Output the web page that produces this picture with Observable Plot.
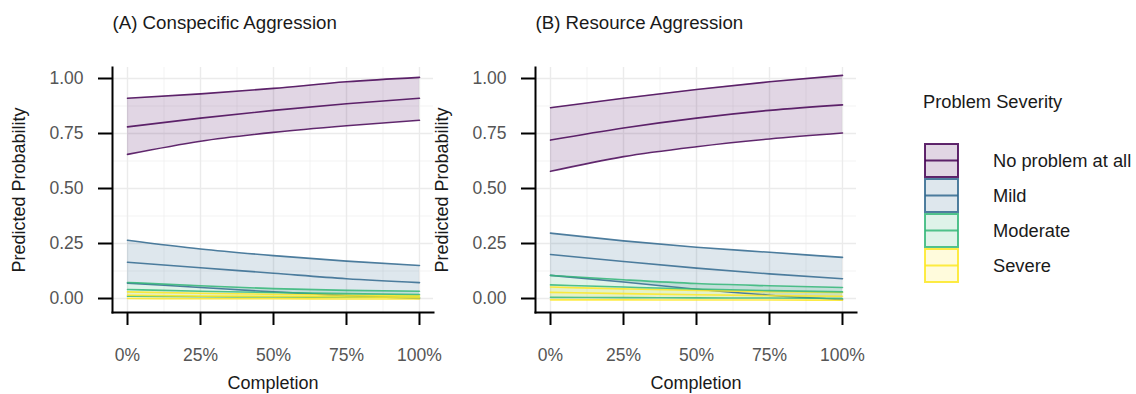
<!DOCTYPE html>
<html>
<head>
<meta charset="utf-8">
<script src="https://cdn.jsdelivr.net/npm/d3@7"></script>
<script src="https://cdn.jsdelivr.net/npm/@observablehq/plot@0.6"></script>
<style>
  html, body { margin: 0; padding: 0; background: #ffffff; }
  #chart { position: relative; width: 1136px; height: 394px; overflow: hidden; font-family: "Liberation Sans", Arial, sans-serif; }
  #chart > .panel { position: absolute; top: 0; }
  #legend { position: absolute; left: 0; top: 0; }
</style>
</head>
<body>
<div id="chart"></div>
<script>
// ---------- data ----------
const completion = [0, 0.25, 0.5, 0.75, 1];
const severityLevels = ["No problem at all", "Mild", "Moderate", "Severe"];
const severityColors = ["#440154", "#31688E", "#35B779", "#FDE725"];
const panelTitles = ["(A) Conspecific Aggression", "(B) Resource Aggression"];
const xTicks = [0, 0.25, 0.5, 0.75, 1];
const xMinor = [0.125, 0.375, 0.625, 0.875];
const yTicks = [0, 0.25, 0.5, 0.75, 1];
const yMinor = [0.125, 0.375, 0.625, 0.875];
const xLabel = "Completion";
const yLabel = "Predicted Probability";
const legendTitle = "Problem Severity";

// Panel A: Conspecific Aggression
const aNoneEst = [0.78, 0.82, 0.855, 0.885, 0.91];
const aNoneLo  = [0.655, 0.715, 0.755, 0.785, 0.81];
const aNoneHi  = [0.91, 0.93, 0.955, 0.985, 1.005];
const aMildEst = [0.165, 0.14, 0.115, 0.09, 0.072];
const aMildLo  = [0.07, 0.05, 0.03, 0.013, 0.0];
const aMildHi  = [0.265, 0.225, 0.195, 0.17, 0.15];
const aModEst  = [0.041, 0.033, 0.027, 0.022, 0.018];
const aModLo   = [0.01, 0.008, 0.007, 0.006, 0.005];
const aModHi   = [0.073, 0.058, 0.045, 0.037, 0.033];
const aSevEst  = [0.015, 0.011, 0.009, 0.007, 0.006];
const aSevLo   = [0.0, -0.001, -0.001, -0.002, -0.002];
const aSevHi   = [0.03, 0.024, 0.019, 0.015, 0.012];

// Panel B: Resource Aggression
const bNoneEst = [0.72, 0.775, 0.82, 0.855, 0.88];
const bNoneLo  = [0.578, 0.645, 0.69, 0.725, 0.752];
const bNoneHi  = [0.867, 0.91, 0.95, 0.985, 1.014];
const bMildEst = [0.2, 0.168, 0.138, 0.112, 0.09];
const bMildLo  = [0.105, 0.075, 0.042, 0.015, -0.005];
const bMildHi  = [0.297, 0.262, 0.233, 0.21, 0.187];
const bModEst  = [0.062, 0.052, 0.043, 0.036, 0.03];
const bModLo   = [0.005, 0.004, 0.003, 0.002, 0.0];
const bModHi   = [0.105, 0.085, 0.068, 0.058, 0.05];
const bSevEst  = [0.028, 0.022, 0.017, 0.013, 0.01];
const bSevLo   = [-0.006, -0.006, -0.007, -0.007, -0.008];
const bSevHi   = [0.052, 0.044, 0.037, 0.031, 0.027];

const xDomain = [-0.0514, 1.048];
const yDomain = [-0.0636, 1.05];

// ---------- build tidy rows ----------
function rowsFor(series) {
  const rows = [];
  series.forEach(([sev, est, lo, hi]) => {
    completion.forEach((x, i) => rows.push({x, sev, est: est[i], lo: lo[i], hi: hi[i]}));
  });
  return rows;
}
const rowsA = rowsFor([
  [severityLevels[0], aNoneEst, aNoneLo, aNoneHi],
  [severityLevels[1], aMildEst, aMildLo, aMildHi],
  [severityLevels[2], aModEst, aModLo, aModHi],
  [severityLevels[3], aSevEst, aSevLo, aSevHi]
]);
const rowsB = rowsFor([
  [severityLevels[0], bNoneEst, bNoneLo, bNoneHi],
  [severityLevels[1], bMildEst, bMildLo, bMildHi],
  [severityLevels[2], bModEst, bModLo, bModHi],
  [severityLevels[3], bSevEst, bSevLo, bSevHi]
]);

const FONT = "'Liberation Sans', Arial, sans-serif";
const curve = "monotone-x";

function panel(rows, title) {
  return Plot.plot({
    width: 440,
    height: 394,
    marginTop: 67,
    marginBottom: 82,
    marginLeft: 112,
    marginRight: 7,
    style: {fontFamily: FONT, fontSize: "17.5px", background: "transparent", overflow: "visible", color: "#000"},
    x: {domain: xDomain, axis: null},
    y: {domain: yDomain, axis: null},
    color: {domain: severityLevels, range: severityColors},
    marks: [
      Plot.gridX(xMinor, {stroke: "#f0f0f0", strokeOpacity: 1, strokeWidth: 0.8}),
      Plot.gridY(yMinor, {stroke: "#f0f0f0", strokeOpacity: 1, strokeWidth: 0.8}),
      Plot.gridX(xTicks, {stroke: "#ebebeb", strokeOpacity: 1, strokeWidth: 1.4}),
      Plot.gridY(yTicks, {stroke: "#ebebeb", strokeOpacity: 1, strokeWidth: 1.4}),
      Plot.areaY(rows, {x: "x", y1: "lo", y2: "hi", z: "sev", fill: "sev", fillOpacity: 0.16, curve}),
      Plot.line(rows, {x: "x", y: "lo", z: "sev", stroke: "sev", strokeWidth: 1.6, strokeOpacity: 0.85, curve}),
      Plot.line(rows, {x: "x", y: "hi", z: "sev", stroke: "sev", strokeWidth: 1.6, strokeOpacity: 0.85, curve}),
      Plot.line(rows, {x: "x", y: "est", z: "sev", stroke: "sev", strokeWidth: 1.6, strokeOpacity: 0.85, curve}),
      Plot.frame({anchor: "left", stroke: "#000", strokeWidth: 2}),
      Plot.frame({anchor: "bottom", stroke: "#000", strokeWidth: 2}),
      Plot.axisY(yTicks, {tickSize: 14, tickPadding: 15, tickFormat: d3.format(".2f"), stroke: "#000", strokeWidth: 2, fill: "#555", label: null}),
      Plot.axisX(xTicks, {tickSize: 13, tickPadding: 23, tickFormat: d3.format(".0%"), stroke: "#000", strokeWidth: 2, fill: "#555", label: null}),
      Plot.text([xLabel], {frameAnchor: "bottom", textAnchor: "middle", lineAnchor: "middle", dy: 71, fill: "#1a1a1a", fontSize: 18}),
      Plot.text([yLabel], {frameAnchor: "left", textAnchor: "middle", dx: -93, rotate: -90, fill: "#1a1a1a", fontSize: 18}),
      Plot.text([title], {frameAnchor: "top-left", textAnchor: "start", lineAnchor: "middle", dy: -44, fill: "#1a1a1a", fontSize: 18.7})
    ]
  });
}

const chart = document.getElementById("chart");
[[rowsA, panelTitles[0], 0], [rowsB, panelTitles[1], 423]].forEach(([rows, title, left]) => {
  const svg = panel(rows, title);
  svg.classList.add("panel");
  svg.style.left = left + "px";
  chart.appendChild(svg);
});

// ---------- legend ----------
const legend = d3.select(chart).append("svg")
  .attr("id", "legend")
  .attr("width", 1136).attr("height", 394)
  .style("font-family", FONT);
legend.append("text")
  .attr("x", 923).attr("y", 108)
  .attr("font-size", 18.3).attr("fill", "#1a1a1a")
  .text(legendTitle);
const keyX = 925, keyW = 33, keyH = 35, keyTop = 143;
severityLevels.forEach((lvl, i) => {
  const y = keyTop + i * keyH;
  const g = legend.append("g");
  g.append("rect").attr("x", keyX).attr("y", y + 1).attr("width", keyW).attr("height", keyH - 2)
    .attr("fill", severityColors[i]).attr("fill-opacity", 0.16)
    .attr("stroke", severityColors[i]).attr("stroke-width", 2).attr("stroke-opacity", 0.85);
  g.append("line").attr("x1", keyX).attr("x2", keyX + keyW).attr("y1", y + keyH / 2).attr("y2", y + keyH / 2)
    .attr("stroke", severityColors[i]).attr("stroke-width", 2).attr("stroke-opacity", 0.85);
  g.append("text").attr("x", 993).attr("y", y + keyH / 2).attr("dy", "0.35em")
    .attr("font-size", 18.3).attr("fill", "#1a1a1a").text(lvl);
});
</script>
</body>
</html>
